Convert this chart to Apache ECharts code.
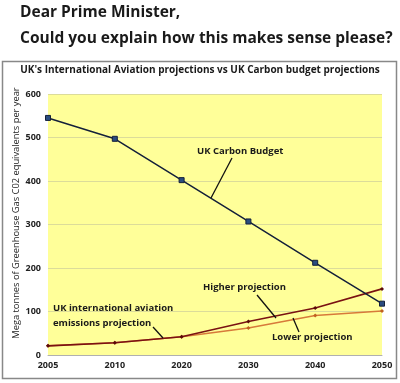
<!DOCTYPE html>
<html><head><meta charset="utf-8">
<script src="https://cdn.jsdelivr.net/npm/echarts@6/dist/echarts.min.js"></script>
<style>html,body{margin:0;padding:0;background:#fff}#c{width:400px;height:383px}</style>
</head><body><div id="c"></div>
<script>
var years = ['2005','2010','2020','2030','2040','2050'];
var carbonBudget = [545, 497, 402, 307, 212, 118];
var higherProjection = [21, 28, 42, 77, 108, 152];
var lowerProjection = [21, 28, 42, 62, 91, 101];
var yTicks = [0, 100, 200, 300, 400, 500, 600];

var chart = echarts.init(document.getElementById('c'));
var F = 'Open Sans, Liberation Sans, sans-serif';
var txt = function(x, y, s, size, weight){
  return {type:'text', left:x, top:y, style:{text:s, font:(weight||'bold')+' '+size+'px '+F, fill:'#1a1a1a'}};
};
var ln = function(x1,y1,x2,y2){
  return {type:'line', shape:{x1:x1,y1:y1,x2:x2,y2:y2}, style:{stroke:'#111', lineWidth:1.3}, z:20};
};
chart.setOption({
  animation:false,
  backgroundColor:'#fff',
  grid:{left:48, right:18, top:94, bottom:28, show:true, backgroundColor:'#ffff99', borderWidth:0},
  xAxis:{type:'category', data:years, boundaryGap:false,
    axisLine:{show:true, lineStyle:{color:'#b0b0b0'}}, axisTick:{show:false},
    axisLabel:{color:'#222', fontFamily:F, fontWeight:'bold', fontSize:9, margin:6, showMaxLabel:true, showMinLabel:true}},
  yAxis:{type:'value', min:yTicks[0], max:yTicks[yTicks.length-1], interval:100,
    axisLine:{show:false}, axisTick:{show:false},
    axisLabel:{color:'#222', fontFamily:F, fontSize:9, fontWeight:'bold', margin:7},
    splitLine:{lineStyle:{color:'#dcdc9a', width:1}}},
  series:[
    {name:'UK Carbon Budget', type:'line', data:carbonBudget, symbol:'rect', symbolSize:5,
      lineStyle:{color:'#14203a', width:1.5}, itemStyle:{color:'#2a4c80', borderColor:'#14203a', borderWidth:1}, z:5},
    {name:'Lower projection', type:'line', data:lowerProjection, symbol:'diamond', symbolSize:4,
      lineStyle:{color:'#d77a3a', width:1.5}, itemStyle:{color:'#c06020'}, z:3},
    {name:'Higher projection', type:'line', data:higherProjection, symbol:'diamond', symbolSize:4,
      lineStyle:{color:'#7a1212', width:1.6}, itemStyle:{color:'#5a0a0a'}, z:4}
  ],
  graphic:[
    {type:'rect', shape:{x:2.5, y:61.5, width:394, height:317}, style:{fill:null, stroke:'#888', lineWidth:1.5}, z:-1},
    txt(20, 5, 'Dear Prime Minister,', 15.5),
    txt(20, 31, 'Could you explain how this makes sense please?', 15.5),
    {type:'text', left:'center', top:65, style:{text:"UK's International Aviation projections vs UK Carbon budget projections", font:'bold 10px '+F, fill:'#1a1a1a'}},
    {type:'text', x:16, y:213, rotation:Math.PI/2, style:{text:'Mega tonnes of Greenhouse Gas C02 equivalents per year', font:'9.3px '+F, fill:'#222', align:'center', verticalAlign:'middle'}},
    txt(197, 146, 'UK Carbon Budget', 9.5),
    ln(232, 158, 211, 198),
    txt(203, 282, 'Higher projection', 9.5),
    ln(257, 295, 276, 318),
    txt(272, 332, 'Lower projection', 9.5),
    ln(293, 318, 299, 332),
    txt(53, 303, 'UK international aviation', 9.5),
    txt(53, 318, 'emissions projection', 9.5),
    ln(153, 327, 163, 338)
  ]
});
</script></body></html>
